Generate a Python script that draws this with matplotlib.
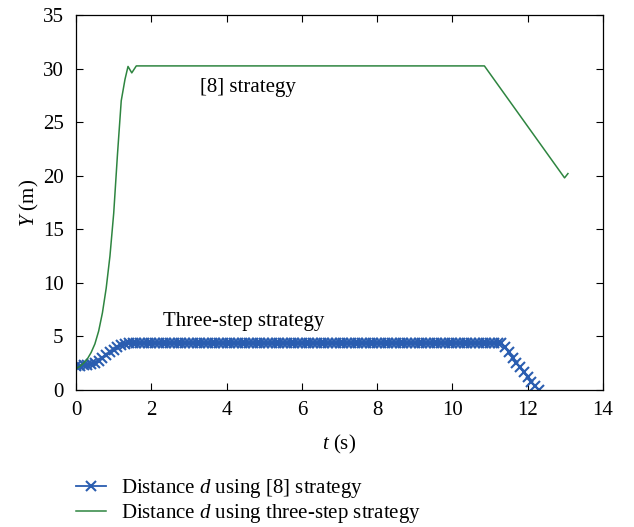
import matplotlib.pyplot as plt

# blue curve (x markers), sampled every 0.1 s
blue_t = [round(0.1 * i, 1) for i in range(124)]
blue_y = [2.2, 2.25, 2.3, 2.35, 2.45, 2.55, 2.75, 3.0, 3.25, 3.5,
          3.75, 4.0, 4.2, 4.3, 4.35, 4.35, 4.35, 4.35, 4.35, 4.35,
          4.35, 4.35, 4.35, 4.35, 4.35, 4.35, 4.35, 4.35, 4.35, 4.35,
          4.35, 4.35, 4.35, 4.35, 4.35, 4.35, 4.35, 4.35, 4.35, 4.35,
          4.35, 4.35, 4.35, 4.35, 4.35, 4.35, 4.35, 4.35, 4.35, 4.35,
          4.35, 4.35, 4.35, 4.35, 4.35, 4.35, 4.35, 4.35, 4.35, 4.35,
          4.35, 4.35, 4.35, 4.35, 4.35, 4.35, 4.35, 4.35, 4.35, 4.35,
          4.35, 4.35, 4.35, 4.35, 4.35, 4.35, 4.35, 4.35, 4.35, 4.35,
          4.35, 4.35, 4.35, 4.35, 4.35, 4.35, 4.35, 4.35, 4.35, 4.35,
          4.35, 4.35, 4.35, 4.35, 4.35, 4.35, 4.35, 4.35, 4.35, 4.35,
          4.35, 4.35, 4.35, 4.35, 4.35, 4.35, 4.35, 4.35, 4.35, 4.35,
          4.35, 4.35, 4.35, 4.35, 4.0, 3.5, 3.0, 2.55, 2.1, 1.65,
          1.2, 0.75, 0.35, 0.0]

# green curve
green_t = [0.0, 0.1, 0.2, 0.3, 0.4, 0.5, 0.6, 0.7, 0.8, 0.9, 1.0, 1.1,
           1.2, 1.3, 1.38, 1.48, 1.6, 10.85, 12.98, 13.07]
green_y = [2.0, 2.2, 2.5, 2.9, 3.5, 4.3, 5.5, 7.2, 9.5, 12.5, 16.5, 22.0,
           27.0, 29.0, 30.2, 29.6, 30.25, 30.25, 19.8, 20.2]

label_blue = 'Distance $d$ using [8] strategy'
label_green = 'Distance $d$ using three-step strategy'

plt.rcParams['font.family'] = ['Liberation Serif', 'DejaVu Serif']
plt.rcParams['mathtext.fontset'] = 'custom'
plt.rcParams['mathtext.it'] = 'Liberation Serif:italic'
plt.rcParams['mathtext.rm'] = 'Liberation Serif'

fig = plt.figure(figsize=(6.34, 5.27), dpi=100)
ax = fig.add_axes([0.12, 0.26, 0.831, 0.7115])

l1, = ax.plot(blue_t, blue_y, color='#2a5db0', marker='x', markersize=7,
              markeredgewidth=1.5, linewidth=1.3, label=label_blue)
l2, = ax.plot(green_t, green_y, color='#2e8540', linewidth=1.1, label=label_green)

ax.set_xlim(0, 14)
ax.set_ylim(0, 35)
ax.set_xticks(range(0, 15, 2))
ax.set_yticks(range(0, 36, 5))
ax.tick_params(direction='in', top=True, right=True, labelsize=15, length=5)
ax.tick_params(axis='y', pad=9)
ax.tick_params(axis='x', pad=8)
for s in ax.spines.values():
    s.set_linewidth(0.9)

ax.set_xlabel('$t$ (s)', fontsize=15, labelpad=9)
ax.set_ylabel('$Y$ (m)', fontsize=15, labelpad=1)

ax.text(3.3, 28.2, '[8] strategy', fontsize=15, va='center')
ax.text(2.3, 6.35, 'Three-step strategy', fontsize=15, va='center')

fig.legend(handles=[l1, l2], loc='upper left', bbox_to_anchor=(0.11, 0.107),
           frameon=False, fontsize=15, handlelength=1.45, handletextpad=0.7,
           labelspacing=0.12, borderaxespad=0, borderpad=0.3)

fig.savefig('out.png', dpi=100)
